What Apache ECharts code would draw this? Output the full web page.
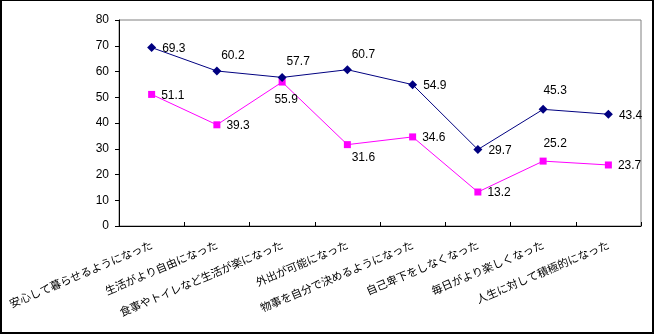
<!DOCTYPE html>
<html><head><meta charset="utf-8">
<script src="https://cdn.jsdelivr.net/npm/echarts@6/dist/echarts.min.js"></script>
<style>
html,body{margin:0;padding:0;background:#fff;}
#frame{position:absolute;left:0;top:0;width:654px;height:334px;box-sizing:border-box;border:2px solid #000;border-top-width:1px;}
#c{position:absolute;left:0;top:0;width:655px;height:335px;}
</style></head>
<body>
<div id="frame"></div>
<div id="c"></div>
<script>
const categories = ['安心して暮らせるようになった','生活がより自由になった','食事やトイレなど生活が楽になった','外出が可能になった','物事を自分で決めるようになった','自己卑下をしなくなった','毎日がより楽しくなった','人生に対して積極的になった'];
const seriesA = [69.3, 60.2, 57.7, 60.7, 54.9, 29.7, 45.3, 43.4];
const seriesB = [51.1, 39.3, 55.9, 31.6, 34.6, 13.2, 25.2, 23.7];
const yTicks = [0, 10, 20, 30, 40, 50, 60, 70, 80];

// label placement (style only)
const placeA = ['right','topRight','topRight','topRight','right','right','top','right'];
const placeB = ['right','right','bottom','bottomRight','right','right','top','right'];
function lbl(p){
  const base = {show:true, color:'#000', fontSize:12, fontFamily:'Liberation Sans, Arial, sans-serif'};
  if (p==='right') return Object.assign(base,{position:'right', offset:[1,1]});
  if (p==='top') return Object.assign(base,{position:'top', offset:[12,-3]});
  if (p==='topRight') return Object.assign(base,{position:'top', offset:[16,0]});
  if (p==='bottom') return Object.assign(base,{position:'bottom', offset:[4,3]});
  if (p==='bottomRight') return Object.assign(base,{position:'bottom', offset:[16,-1]});
  return base;
}
const chart = echarts.init(document.getElementById('c'), null, {renderer:'canvas'});
chart.setOption({
  animation:false,
  backgroundColor:'transparent',
  grid:{left:119, top:20, right:14, bottom:109, show:true, borderColor:'#808080', borderWidth:1, backgroundColor:'transparent'},
  xAxis:{type:'category', data:categories, boundaryGap:true,
    axisLine:{lineStyle:{color:'#000', width:1}},
    axisTick:{show:true, inside:true, length:4, lineStyle:{color:'#000'}},
    axisLabel:{rotate:23, fontSize:11, color:'#000', interval:0, margin:18, fontFamily:'Noto Sans CJK JP, sans-serif'},
    splitLine:{show:false}},
  yAxis:{type:'value', min:yTicks[0], max:yTicks[yTicks.length-1], interval:10,
    axisLine:{show:true, lineStyle:{color:'#000', width:1}},
    axisTick:{show:true, length:4, lineStyle:{color:'#000'}},
    axisLabel:{fontSize:12, color:'#000', margin:10, fontFamily:'Liberation Sans, Arial, sans-serif'},
    splitLine:{show:false}},
  series:[
    {type:'line', data:seriesA.map((v,i)=>({value:v, label:lbl(placeA[i])})),
     symbol:'diamond', symbolSize:9, color:'#000080', lineStyle:{color:'#000080', width:1},
     itemStyle:{color:'#000080'}, z:3},
    {type:'line', data:seriesB.map((v,i)=>({value:v, label:lbl(placeB[i])})),
     symbol:'rect', symbolSize:7, color:'#FF00FF', lineStyle:{color:'#FF00FF', width:1},
     itemStyle:{color:'#FF00FF'}, z:2}
  ]
});
</script>
</body></html>
